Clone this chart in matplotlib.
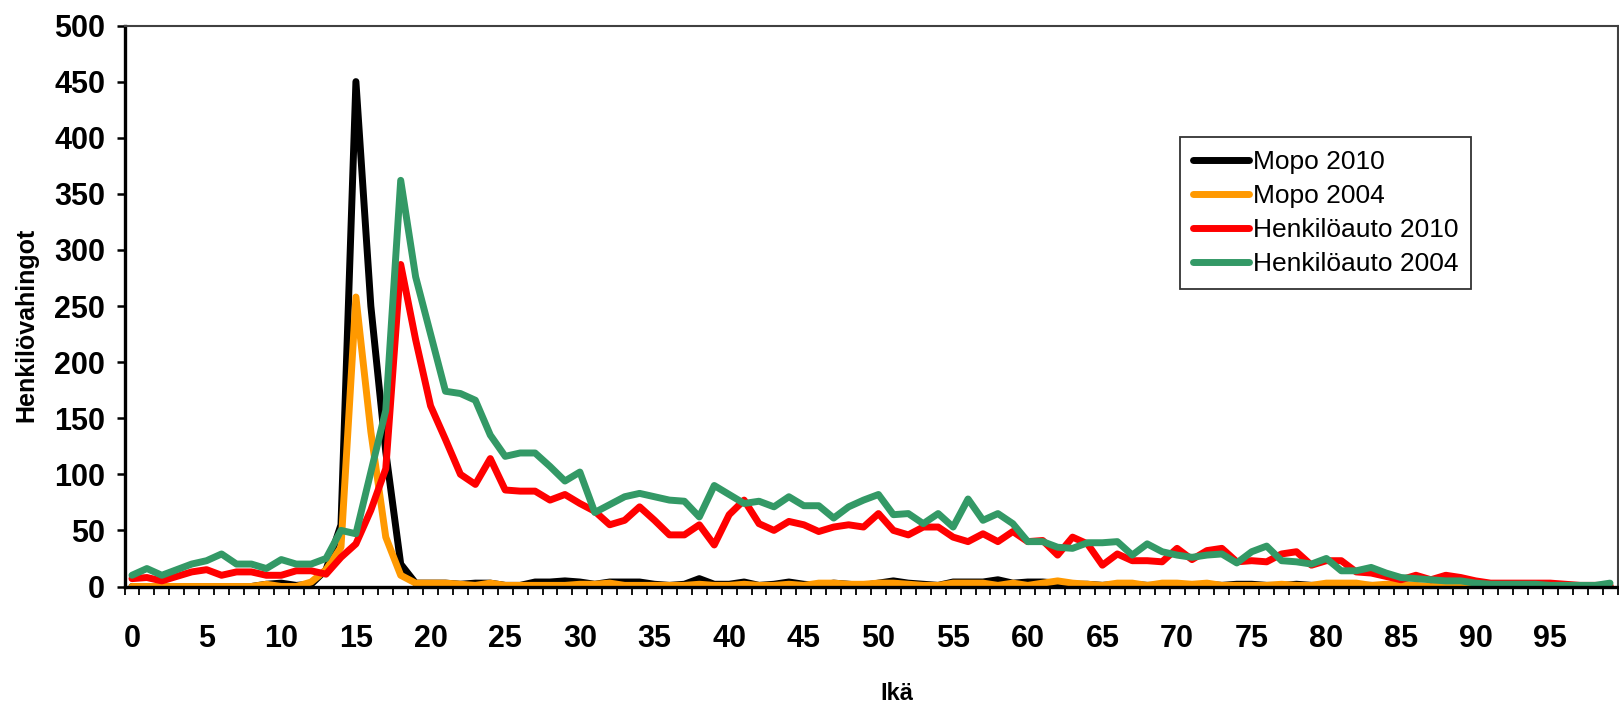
import numpy as np
import matplotlib
matplotlib.use('Agg')
import matplotlib.pyplot as plt
from matplotlib.ticker import MultipleLocator, FixedLocator

# data (age 0..99)
ika = list(range(100))

mopo_2010 = [0, 0, 0, 0, 0, 0, 0, 0, 0, 2,
             3, 1, 2, 15, 55, 450, 250, 120, 20, 3,
             3, 3, 2, 3, 3, 1, 1, 4, 4, 5,
             4, 2, 4, 4, 4, 2, 1, 2, 7, 2,
             2, 4, 1, 2, 4, 2, 1, 3, 2, 1,
             3, 5, 3, 2, 1, 4, 4, 4, 6, 3,
             4, 4, 3, 2, 2, 1, 2, 2, 1, 1,
             2, 1, 2, 1, 2, 2, 1, 1, 2, 1,
             1, 1, 1, 1, 0, 0, 0, 0, 0, 0,
             0, 0, 0, 0, 0, 0, 0, 0, 0, 0]

mopo_2004 = [0, 0, 0, 0, 0, 0, 0, 0, 0, 2,
             0, 0, 4, 15, 35, 258, 138, 44, 10, 3,
             3, 3, 2, 1, 3, 1, 1, 1, 1, 1,
             2, 2, 3, 1, 1, 1, 1, 1, 2, 1,
             1, 2, 1, 1, 2, 1, 3, 3, 2, 2,
             3, 3, 2, 1, 1, 3, 3, 3, 1, 3,
             1, 3, 5, 3, 2, 1, 3, 3, 1, 3,
             3, 2, 3, 1, 1, 1, 1, 2, 1, 1,
             3, 3, 3, 1, 2, 2, 1, 0, 0, 0,
             0, 0, 0, 0, 0, 0, 0, 0, 0, 0]

auto_2010 = [7, 8, 5, 9, 13, 15, 10, 13, 13, 10,
             10, 14, 14, 11, 26, 38, 68, 105, 287, 220,
             161, 131, 100, 91, 114, 86, 85, 85, 77, 82,
             74, 67, 55, 59, 71, 59, 46, 46, 55, 37,
             64, 77, 56, 50, 58, 55, 49, 53, 55, 53,
             65, 50, 46, 53, 53, 44, 40, 47, 40, 49,
             40, 41, 28, 44, 38, 19, 29, 23, 23, 22,
             34, 24, 32, 34, 22, 23, 22, 29, 31, 19,
             23, 23, 13, 12, 9, 6, 10, 6, 10, 8,
             5, 3, 3, 3, 3, 3, 2, 1, 1, 1]

auto_2004 = [10, 16, 10, 15, 20, 23, 29, 20, 20, 16,
             24, 20, 20, 25, 50, 47, 102, 157, 362, 276,
             225, 174, 172, 166, 135, 116, 119, 119, 107, 94,
             102, 66, 73, 80, 83, 80, 77, 76, 62, 90,
             82, 74, 76, 71, 80, 72, 72, 61, 71, 77,
             82, 64, 65, 56, 65, 53, 78, 59, 65, 56,
             40, 40, 35, 34, 39, 39, 40, 28, 38, 31,
             28, 26, 28, 29, 21, 31, 36, 23, 22, 20,
             25, 14, 14, 17, 12, 8, 7, 6, 5, 5,
             3, 2, 2, 2, 2, 1, 1, 1, 1, 3]

sarjat = ['Mopo 2010', 'Mopo 2004', 'Henkilöauto 2010', 'Henkilöauto 2004']
varit = ['#000000', '#FF9900', '#FF0000', '#339966']

plt.rcParams['font.family'] = ['Liberation Sans', 'DejaVu Sans']

fig = plt.figure(figsize=(16.19, 7.06), dpi=100)
ax = fig.add_axes([124.5 / 1619, 119.5 / 706, 1493 / 1619, 561 / 706])

for arvot, nimi, vari in zip([mopo_2010, mopo_2004, auto_2010, auto_2004], sarjat, varit):
    ax.plot(ika, arvot, color=vari, lw=5, label=nimi,
            solid_joinstyle='round', solid_capstyle='round')

ax.set_xlim(-0.5, 99.5)
ax.set_ylim(0, 500)
ax.yaxis.set_major_locator(MultipleLocator(50))
ax.xaxis.set_major_locator(FixedLocator(list(range(0, 100, 5))))
ax.xaxis.set_minor_locator(FixedLocator([i - 0.5 for i in range(101)]))
ax.tick_params(axis='x', which='major', length=0, pad=27, labelsize=22)
ax.tick_params(axis='x', which='minor', length=6, width=1.3, direction='out')
ax.tick_params(axis='y', which='major', length=6, width=1.8, direction='out',
               pad=8, labelsize=22)
for lab in ax.get_xticklabels() + ax.get_yticklabels():
    lab.set_fontweight('bold')

ax.spines['left'].set_linewidth(2.4)
ax.spines['bottom'].set_linewidth(2.4)
ax.spines['top'].set_color('#404040')
ax.spines['top'].set_linewidth(1.5)
ax.spines['right'].set_color('#404040')
ax.spines['right'].set_linewidth(1.5)

fig.text(897 / 1619, 1 - 693 / 706, 'Ikä', ha='center', va='center',
         fontsize=17, fontweight='bold')
fig.text(26 / 1619, 1 - 325 / 706, 'Henkilövahingot', ha='center', va='center',
         rotation=90, fontsize=18, fontweight='bold')

leg = ax.legend(loc='upper left', bbox_to_anchor=(1180 / 1619, 1 - 137 / 706),
                bbox_transform=fig.transFigure, fontsize=19, frameon=True,
                fancybox=False, edgecolor='black', borderaxespad=0,
                handlelength=2.1, handletextpad=0.15, labelspacing=0.38,
                borderpad=0.5)
leg.get_frame().set_linewidth(1.3)

fig.savefig('out.png', dpi=100)
